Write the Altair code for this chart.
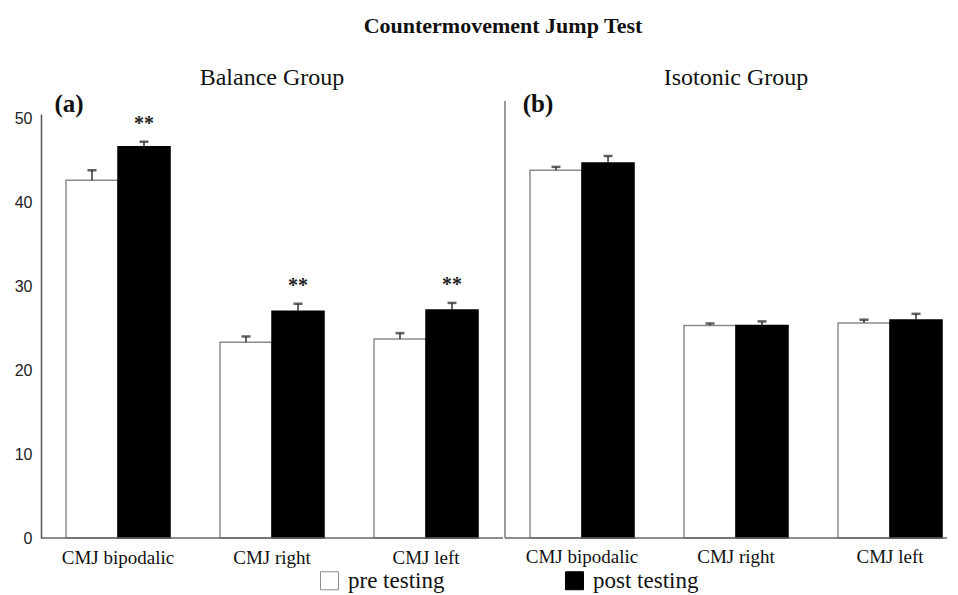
import altair as alt
import pandas as pd

# ---- data ----
tests = ["CMJ bipodalic", "CMJ right", "CMJ left"]
phases = ["pre testing", "post testing"]

balance_pre = [42.6, 23.3, 23.7]
balance_pre_err = [1.2, 0.7, 0.7]
balance_post = [46.6, 27.0, 27.15]
balance_post_err = [0.6, 0.9, 0.85]
balance_sig = ["**", "**", "**"]

isotonic_pre = [43.8, 25.3, 25.6]
isotonic_pre_err = [0.4, 0.25, 0.4]
isotonic_post = [44.65, 25.3, 25.95]
isotonic_post_err = [0.85, 0.5, 0.75]
isotonic_sig = ["", "", ""]

y_ticks = [0, 10, 20, 30, 40, 50]
group_titles = ["Balance Group", "Isotonic Group"]
panel_labels = ["(a)", "(b)"]
main_title = "Countermovement Jump Test"

SERIF = "Liberation Serif"
SANS = "Liberation Sans"
H = 424
STEP_W = 462
RIGHT_W = 442


def make_df(pre, pre_err, post, post_err, sig):
    rows = []
    for i, t in enumerate(tests):
        rows.append({"test": t, "phase": phases[0], "value": pre[i], "err": pre_err[i], "sig": ""})
        rows.append({"test": t, "phase": phases[1], "value": post[i], "err": post_err[i], "sig": sig[i]})
    df = pd.DataFrame(rows)
    df["top"] = df["value"] + df["err"]
    df["sigy"] = df["top"] + 2.1
    return df


def panel(df, width, title, label, left, title_dx):
    if left:
        xscale = alt.Scale(domain=tests, paddingInner=0, paddingOuter=0)
        xaxis = alt.Axis(title=None, labelAngle=0, ticks=False, domain=False,
                         labelFont=SERIF, labelFontSize=19, labelColor="#111",
                         labelPadding=10)
    else:
        xscale = alt.Scale(domain=tests, paddingInner=0, paddingOuter=0, range=[0, STEP_W])
        xaxis = None
    x = alt.X("test:N", sort=tests, scale=xscale, axis=xaxis)
    xo = alt.XOffset("phase:N", sort=phases,
                     scale=alt.Scale(domain=phases, paddingInner=0, paddingOuter=0.48))
    if left:
        yaxis = alt.Axis(title=None, values=y_ticks, ticks=False, grid=False,
                         domainColor="#555", domainWidth=1.5,
                         labelFont=SANS, labelFontSize=16, labelColor="#222",
                         labelPadding=9)
    else:
        yaxis = None
    y = alt.Y("value:Q", scale=alt.Scale(domain=[0, 50.5], nice=False, zero=True), axis=yaxis)

    base = alt.Chart(df)
    bars = base.mark_bar(strokeWidth=1.5).encode(
        x=x, xOffset=xo, y=y,
        fill=alt.Fill("phase:N", sort=phases,
                      scale=alt.Scale(domain=phases, range=["white", "black"]),
                      legend=alt.Legend(title=None, orient="none", legendX=277, legendY=455,
                                        direction="horizontal", symbolType="square",
                                        symbolSize=324, symbolStrokeColor="#777",
                                        symbolStrokeWidth=1, labelFont=SERIF,
                                        labelFontSize=23, labelColor="#111",
                                        columnPadding=118, labelOffset=7)),
        stroke=alt.Stroke("phase:N", sort=phases,
                          scale=alt.Scale(domain=phases, range=["#8c8c8c", "black"]),
                          legend=None),
    )
    errs = base.mark_rule(color="#333", strokeWidth=1.5).encode(
        x=x, xOffset=xo, y="value:Q", y2="top:Q")
    caps = base.mark_tick(color="#222", thickness=2.5, size=9).encode(
        x=x, xOffset=xo, y="top:Q")
    stars = base.transform_filter("datum.sig != ''").mark_text(
        font=SERIF, fontWeight="bold", fontSize=20, baseline="middle", color="#222"
    ).encode(x=x, xOffset=xo, y="sigy:Q", text="sig:N")
    baseline = alt.Chart(pd.DataFrame({"b": [0]})).mark_rule(color="#666", strokeWidth=1.5).encode(
        y=alt.datum(0), x=alt.value(0), x2=alt.value(width))
    lab = alt.Chart(pd.DataFrame({"label": [label]})).mark_text(
        font=SERIF, fontWeight="bold", fontSize=25, color="#111"
    ).encode(text="label:N", x=alt.value(28 if left else 33), y=alt.value(-10))

    layers = [bars, errs, caps, stars, baseline, lab]
    if not left:
        cats = alt.Chart(pd.DataFrame({"test": tests})).mark_text(
            font=SERIF, fontSize=19, color="#111", baseline="top"
        ).encode(x=alt.X("test:N", sort=tests, scale=xscale, axis=None),
                 y=alt.value(H + 10), text="test:N")
        divider = alt.Chart(pd.DataFrame({"d": [0]})).mark_rule(color="#777", strokeWidth=1.5).encode(
            x=alt.value(0), y=alt.value(-13), y2=alt.value(H))
        layers += [cats, divider]
    return alt.layer(*layers).properties(
        width=width, height=H,
        title=alt.TitleParams(title, font=SERIF, fontSize=24, fontWeight="normal",
                              color="#111", offset=2, anchor="middle", dx=title_dx,
                              frame="group"))


left = panel(make_df(balance_pre, balance_pre_err, balance_post, balance_post_err, balance_sig),
             STEP_W, group_titles[0], panel_labels[0], True, 0)
right = panel(make_df(isotonic_pre, isotonic_pre_err, isotonic_post, isotonic_post_err, isotonic_sig),
              RIGHT_W, group_titles[1], panel_labels[1], False, 231 - RIGHT_W / 2)

chart = alt.hconcat(left, right, spacing=0).properties(
    title=alt.TitleParams(main_title, font=SERIF, fontWeight="bold", fontSize=22,
                          color="#111", anchor="middle", dx=22, offset=28),
    padding={"left": 6, "top": 7, "right": 0, "bottom": 0},
).configure(font=SERIF).configure_view(stroke=None).configure_legend(
    labelFont=SERIF, labelFontSize=23, labelColor="#111",
    symbolStrokeColor="#777", symbolStrokeWidth=1,
)

chart.save("out.html", embed_options={"renderer": "svg", "actions": False})
